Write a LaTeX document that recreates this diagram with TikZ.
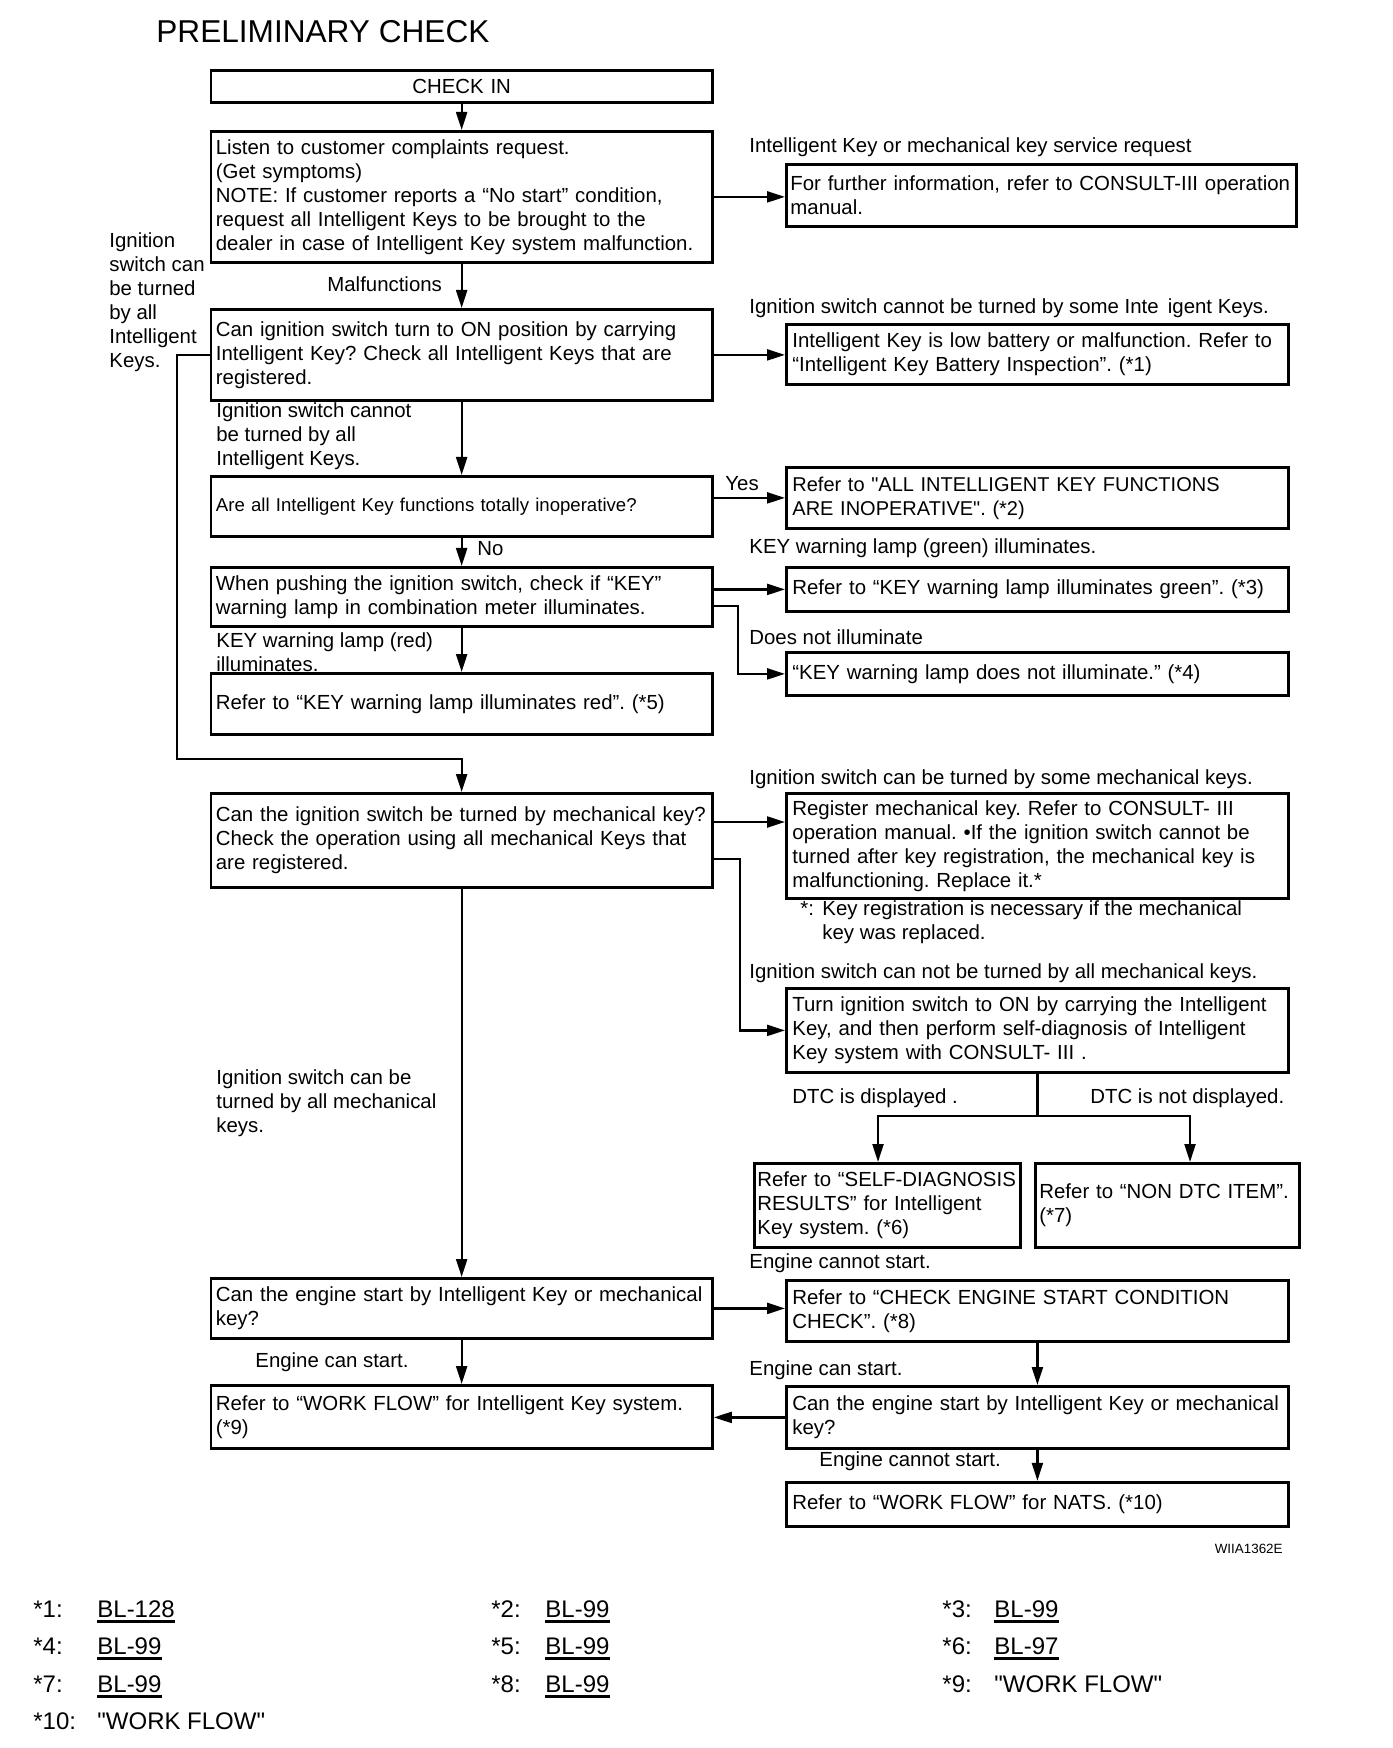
\documentclass[tikz,border=0pt]{standalone}
\usepackage{fontspec}
\setmainfont{Liberation Sans}[Ligatures=TeXOff]
\usetikzlibrary{arrows.meta,positioning,calc}
\definecolor{inkblack}{HTML}{000000}
\newcommand{\boxsize}{\fontsize{10.2}{12}\selectfont}
\frenchspacing
\tikzset{
  >={Triangle[length=9pt,width=5.5pt]},
  title/.style={font=\fontsize{15.8}{18}\selectfont, anchor=west, inner sep=0pt, text=inkblack},
  mainbox/.style={
    rectangle, draw=inkblack, line width=1.4pt, anchor=north west,
    align=left, text width=245.75pt, inner xsep=2.5pt, inner ysep=0pt,
    font=\boxsize, text=inkblack
  },
  sidebox/.style={
    rectangle, draw=inkblack, line width=1.4pt, anchor=north west,
    align=left, text width=245pt, inner xsep=3pt, inner ysep=0pt,
    font=\boxsize, text=inkblack
  },
  cond/.style={anchor=west, inner sep=0pt, align=left, font=\boxsize, text=inkblack},
  arrow/.style={->, line width=1.1pt, draw=inkblack},
  flow/.style={line width=1.1pt, draw=inkblack},
  fnstar/.style={anchor=base west, inner sep=0pt, font=\fontsize{12}{14}\selectfont},
  fnref/.style={anchor=base west, inner xsep=0pt, inner ysep=2pt, font=\fontsize{12}{14}\selectfont},
  linked/.style={append after command={(\tikzlastnode.south west) edge[line width=1.3pt] (\tikzlastnode.south east)}},
  figcode/.style={anchor=east, inner sep=0pt, font=\fontsize{6.7}{8}\selectfont}
}
\newcommand{\fnote}[6]{
  \node[fnstar] (fn#1) at (#2,#4) {*#1:};
  \node[fnref,#6] (ref#1) at (#3,#4) {#5};
}

\begin{document}
\begin{tikzpicture}[x=0.5pt, y=-0.5pt]
\fill[white, use as bounding box] (0,0) rectangle (1392,1748);
\node[title] (title) at (156,32) {PRELIMINARY CHECK};
% main column
\node[mainbox, align=center, minimum height=16pt] (checkin) at (209.5,69) {CHECK IN};
\node[mainbox, minimum height=65.5pt] (listen) at (209.5,130) {Listen to customer complaints request.\\(Get symptoms)\\NOTE: If customer reports a “No start” condition,\\request all Intelligent Keys to be brought to the\\dealer in case of Intelligent Key system malfunction.};
\node[mainbox, minimum height=45.5pt] (canign) at (209.5,308) {Can ignition switch turn to ON position by carrying\\Intelligent Key? Check all Intelligent Keys that are\\registered.};
\node[mainbox, minimum height=30pt, font=\fontsize{9.3}{11}\selectfont] (allinop) at (209.5,475) {Are all Intelligent Key functions totally inoperative?};
\node[mainbox, minimum height=29.5pt] (pushkey) at (209.5,566) {When pushing the ignition switch, check if “KEY”\\warning lamp in combination meter illuminates.};
\node[mainbox, minimum height=30.5pt] (redref) at (209.5,672) {Refer to “KEY warning lamp illuminates red”. (*5)};
\node[mainbox, minimum height=47pt] (mech) at (209.5,792) {Can the ignition switch be turned by mechanical key?\\Check the operation using all mechanical Keys that\\are registered.};
\node[mainbox, minimum height=30pt] (engine1) at (209.5,1277) {Can the engine start by Intelligent Key or mechanical\\key?};
\node[mainbox, minimum height=31.5pt] (wf9) at (209.5,1384) {Refer to “WORK FLOW” for Intelligent Key system.\\(*9)};
% right column
\node[sidebox, text width=251pt, inner xsep=2pt, minimum height=31pt] (further) at (785,163) {For further information, refer to CONSULT-III operation\\manual.};
\node[sidebox, minimum height=30pt] (lowbatt) at (785,323) {Intelligent Key is low battery or malfunction. Refer to\\“Intelligent Key Battery Inspection”. (*1)};
\node[sidebox, minimum height=30.5pt, font=\fontsize{10}{12}\selectfont] (allref) at (785,466) {Refer to "ALL INTELLIGENT KEY FUNCTIONS\\ARE INOPERATIVE". (*2)};
\node[sidebox, minimum height=22pt] (green) at (785,566) {Refer to “KEY warning lamp illuminates green”. (*3)};
\node[sidebox, minimum height=21.5pt] (notill) at (785,651) {“KEY warning lamp does not illuminate.” (*4)};
\node[sidebox, minimum height=52.5pt] (register) at (785,792) {Register mechanical key. Refer to CONSULT- III\\operation manual. •If the ignition switch cannot be\\turned after key registration, the mechanical key is\\malfunctioning. Replace it.*};
\node[sidebox, minimum height=42pt] (turn) at (785,987) {Turn ignition switch to ON by carrying the Intelligent\\Key, and then perform self-diagnosis of Intelligent\\Key system with CONSULT- III .};
\node[sidebox, text width=130pt, inner xsep=1.5pt, minimum height=42pt] (selfdiag) at (753,1162) {Refer to “SELF-DIAGNOSIS\\RESULTS” for Intelligent\\Key system. (*6)};
\node[sidebox, text width=128pt, inner xsep=2pt, minimum height=42pt] (nondtc) at (1034,1162) {Refer to “NON DTC ITEM”.\\(*7)};
\node[sidebox, minimum height=30.5pt] (checkeng) at (785,1279) {Refer to “CHECK ENGINE START CONDITION\\CHECK”. (*8)};
\node[sidebox, minimum height=31pt] (engine2) at (785,1385) {Can the engine start by Intelligent Key or mechanical\\key?};
\node[sidebox, minimum height=22pt, below=15.5pt of engine2] (nats) {Refer to “WORK FLOW” for NATS. (*10)};
% branch texts
\node[cond] (lbl-service) at (749,147) {Intelligent Key or mechanical key service request};
\node[cond] (lbl-allkeys) at (109,302) {Ignition\\switch can\\be turned\\by all\\Intelligent\\Keys.};
\node[cond] (lbl-malf) at (327,284) {Malfunctions};
\node[cond] (lbl-some) at (749,308) {Ignition switch cannot be turned by some Inte\hspace{0.45em}igent Keys.};
\node[cond] (lbl-none) at (216,436) {Ignition switch cannot\\be turned by all\\Intelligent Keys.};
\node[cond] (lbl-yes) at (725,484) {Yes};
\node[cond] (lbl-no) at (477,549) {No};
\node[cond] (lbl-green) at (749,548) {KEY warning lamp (green) illuminates.};
\node[cond] (lbl-notill) at (749,637) {Does not illuminate};
\node[cond] (lbl-red) at (216,652) {KEY warning lamp (red)\\illuminates.};
\node[cond] (lbl-somemech) at (749,779) {Ignition switch can be turned by some mechanical keys.};
\node[cond] (lbl-star) at (800,922) {\makebox[11pt][l]{*:}Key registration is necessary if the mechanical\\\hspace*{11pt}key was replaced.};
\node[cond] (lbl-nomech) at (749,973) {Ignition switch can not be turned by all mechanical keys.};
\node[cond] (lbl-dtc) at (792,1098) {DTC is displayed .};
\node[cond] (lbl-nodtc) at (1090,1098) {DTC is not displayed.};
\node[cond] (lbl-allmech) at (216,1103) {Ignition switch can be\\turned by all mechanical\\keys.};
\node[cond] (lbl-nostart1) at (749,1263) {Engine cannot start.};
\node[cond] (lbl-start1) at (255,1362) {Engine can start.};
\node[cond] (lbl-start2) at (749,1370) {Engine can start.};
\node[cond] (lbl-nostart2) at (819,1461) {Engine cannot start.};
\node[figcode] (code) at (1283,1549) {WIIA1362E};
% connectors
\coordinate (loopturn) at (177,759);
\coordinate (mechtop) at ($(mech.north east)+(0,30)$);
\coordinate (dtcsplit) at ($(turn.south)+(0,42)$);
\draw[arrow] (checkin.south) -- (listen.north);
\draw[arrow] (listen.east) -- (listen.east -| further.west);
\draw[arrow] (listen.south) -- (canign.north);
\draw[arrow] (canign.east) -- (canign.east -| lowbatt.west);
\draw[arrow] (canign.south) -- (allinop.north);
\draw[arrow] (allinop.east |- allref.west) -- (allref.west);
\draw[arrow] (allinop.south) -- (pushkey.north);
\draw[arrow] (pushkey.east |- green.west) -- (green.west);
\draw[arrow] ($(pushkey.north east)+(0,40)$) -| ($(notill.west)+(-47,0)$) -- (notill.west);
\draw[arrow] (pushkey.south) -- (redref.north);
\draw[arrow] (canign.west) -| (loopturn) -| (mech.north);
\draw[arrow] (mechtop) -- (mechtop -| register.west);
\draw[arrow] ($(mech.north east)+(0,67)$) -| ($(turn.west)+(-45,0)$) -- (turn.west);
\draw[flow] (turn.south) -- (dtcsplit);
\draw[arrow] (dtcsplit) -| ($(selfdiag.north west)+(125,0)$);
\draw[arrow] (dtcsplit) -| ($(nondtc.north west)+(156,0)$);
\draw[arrow] (mech.south) -- (engine1.north);
\draw[arrow] (engine1.east) -- (engine1.east -| checkeng.west);
\draw[arrow] (engine1.south) -- (wf9.north);
\draw[arrow] (checkeng.south) -- (engine2.north);
\draw[arrow] (engine2.west) -- (engine2.west -| wf9.east);
\draw[arrow] (engine2.south) -- (nats.north);
% references
\fnote{1}{33}{97}{1617}{BL-128}{linked}
\fnote{2}{491}{545}{1617}{BL-99}{linked}
\fnote{3}{942}{994}{1617}{BL-99}{linked}
\fnote{4}{33}{97}{1654}{BL-99}{linked}
\fnote{5}{491}{545}{1654}{BL-99}{linked}
\fnote{6}{942}{994}{1654}{BL-97}{linked}
\fnote{7}{33}{97}{1692}{BL-99}{linked}
\fnote{8}{491}{545}{1692}{BL-99}{linked}
\fnote{9}{942}{994}{1692}{"WORK FLOW"}{}
\fnote{10}{33}{97}{1729}{"WORK FLOW"}{}
\end{tikzpicture}
\end{document}
